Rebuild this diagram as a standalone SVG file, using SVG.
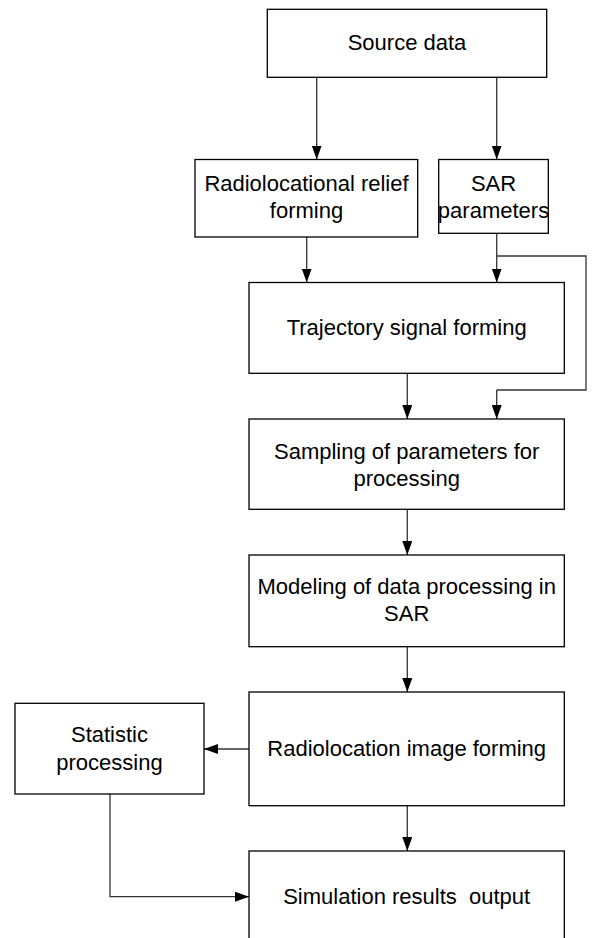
<svg xmlns="http://www.w3.org/2000/svg" width="592" height="938" viewBox="0 0 592 938">
  <defs>
    <style>
      .box { fill: #ffffff; stroke: #000000; stroke-width: 1.3; }
      .lbl { font-family: "Liberation Sans", Arial, sans-serif; font-size: 22px; fill: #000000; text-anchor: middle; }
      .wire { fill: none; stroke: #333333; stroke-width: 1.3; }
      .wire-arrow { fill: none; stroke: #333333; stroke-width: 1.3; marker-end: url(#arrow); }
    </style>
    <marker id="arrow" markerUnits="userSpaceOnUse" markerWidth="14" markerHeight="10" refX="14" refY="5" orient="auto">
      <path d="M0,0 L14,5 L0,10 z" fill="#000000"/>
    </marker>
  </defs>
  <rect width="592" height="938" fill="#ffffff"/>

  <g id="connectors">
    <path class="wire-arrow" d="M316.7,77.3 V159.5"/>
    <path class="wire-arrow" d="M496.7,77.3 V159.5"/>
    <path class="wire-arrow" d="M306.7,237 V282.5"/>
    <path class="wire-arrow" d="M496.7,233.3 V282.5"/>
    <path class="wire" d="M496.7,256 H586 V390 H496.7"/>
    <path class="wire-arrow" d="M496.7,390 V419"/>
    <path class="wire-arrow" d="M407.3,373.3 V419"/>
    <path class="wire-arrow" d="M407.3,509.3 V555"/>
    <path class="wire-arrow" d="M407.3,646.7 V692"/>
    <path class="wire-arrow" d="M407.3,805.7 V851"/>
    <path class="wire-arrow" d="M249,749 H204"/>
    <path class="wire-arrow" d="M110,794 V896.7 H249"/>
  </g>

  <g id="source-data">
    <rect class="box" x="267.3" y="9.3" width="279.4" height="68"/>
    <text class="lbl" x="407" y="50">Source data</text>
  </g>
  <g id="relief-forming">
    <rect class="box" x="195" y="159.5" width="222.7" height="77.5"/>
    <text class="lbl" x="306.5" y="191">Radiolocational relief</text>
    <text class="lbl" x="306.5" y="218">forming</text>
  </g>
  <g id="sar-parameters">
    <rect class="box" x="438.7" y="159.5" width="109.6" height="73.8"/>
    <text class="lbl" x="493.5" y="191">SAR</text>
    <text class="lbl" x="493.5" y="218">parameters</text>
  </g>
  <g id="trajectory-signal">
    <rect class="box" x="249" y="282.5" width="315.3" height="90.8"/>
    <text class="lbl" x="406.7" y="335">Trajectory signal forming</text>
  </g>
  <g id="sampling">
    <rect class="box" x="249" y="419" width="315.3" height="90.3"/>
    <text class="lbl" x="406.7" y="459">Sampling of parameters for</text>
    <text class="lbl" x="406.7" y="485.7">processing</text>
  </g>
  <g id="modeling">
    <rect class="box" x="249" y="555" width="315.3" height="91.7"/>
    <text class="lbl" x="406.7" y="594.3">Modeling of data processing in</text>
    <text class="lbl" x="406.7" y="621">SAR</text>
  </g>
  <g id="image-forming">
    <rect class="box" x="249" y="692" width="315.3" height="113.7"/>
    <text class="lbl" x="406.7" y="755.7">Radiolocation image forming</text>
  </g>
  <g id="statistic-processing">
    <rect class="box" x="15" y="703.3" width="189" height="90.7"/>
    <text class="lbl" x="109.5" y="741.7">Statistic</text>
    <text class="lbl" x="109.5" y="769.5">processing</text>
  </g>
  <g id="simulation-output">
    <rect class="box" x="249" y="851" width="315.3" height="100"/>
    <text class="lbl" x="406.7" y="904" xml:space="preserve">Simulation results  output</text>
  </g>
</svg>
